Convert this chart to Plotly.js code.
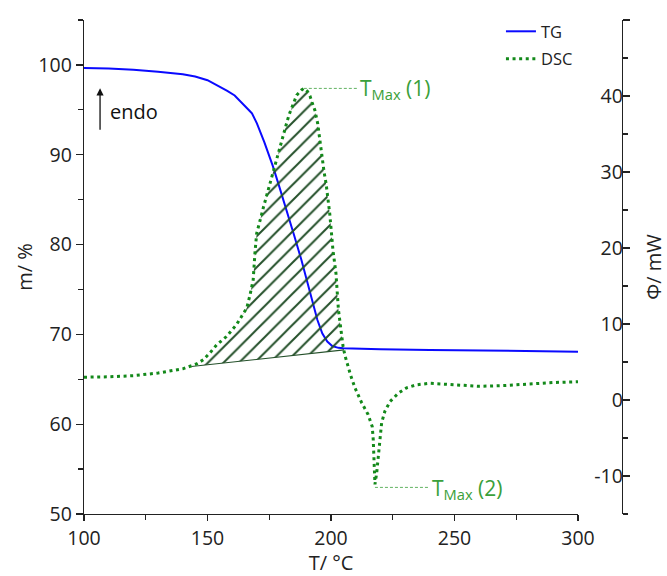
<!DOCTYPE html>
<html><head><meta charset="utf-8">
<script src="https://cdn.plot.ly/plotly-3.0.1.min.js"></script>
<style>html,body{margin:0;padding:0;background:#fff;} #chart{width:667px;height:576px;}</style>
</head><body><div id="chart"></div>
<script>
// ---- data ----
const tgT = [100,110,120,130,140,145,150,155,158,161,164,167,168,170,173,176.5,179,182,185,188,190.5,192.5,194.5,196.5,198.5,200.5,203,205,210,220,240,260,280,300];
const tgMass = [99.65,99.6,99.45,99.25,98.95,98.7,98.3,97.6,97.1,96.6,95.8,94.9,94.6,93.5,91.4,88.7,86.5,83.9,81.1,78.3,75.8,73.5,71.6,70.1,69.2,68.7,68.5,68.45,68.4,68.35,68.27,68.2,68.13,68.07];

const dscT = [100,110,120,130,140,145.6,148.3,151,153.7,157.7,161.7,165.9,167.2,168.5,169.2,169.9,172.6,174.6,176,177,178.3,179,180.1,181.1,182.1,183.1,184.1,185,186.1,188.1,189,190.5,191.5,192.5,193.5,194.6,195.8,197.2,198,199.5,200.8,202,203,204,204.9,205.7,207,208,209.7,212.4,215,216.7,217.1,217.4,217.8,218.5,219.2,219.8,220.5,221.8,223.9,227.3,230.6,234.7,240,250,260,270,280,290,300];
const dscPhi = [3.0,3.05,3.2,3.55,4.1,4.75,5.3,6.2,7.25,8.35,9.9,12.1,13.8,15.8,19.3,21.9,25.3,27.7,29.4,30.6,32.2,33.1,34.4,35.5,36.5,37.6,38.5,39.3,40.1,40.8,41.0,40.6,40.0,39.0,38.1,36.4,33.3,30.0,28.5,24.5,19.7,16.7,11.9,9.2,7.0,5.8,4.2,3.2,1.6,-0.35,-1.9,-3.5,-5.2,-7.8,-11.1,-9.6,-7.0,-4.8,-3.0,-1.5,-0.2,0.9,1.6,2.0,2.2,2.0,1.8,1.9,2.1,2.3,2.4];

const baselineT = [143.5, 205.3];
const baselinePhi = [4.4, 6.6];

const xTicks = [100,150,200,250,300];
const leftTicks = [50,60,70,80,90,100];
const rightTicks = [-10,0,10,20,30,40,50];
const rightTickText = ['-10','0','10','20','30','40','50'];
const seriesNames = ['TG','DSC'];
const peakLabels = ['T<sub>Max</sub> (1)','T<sub>Max</sub> (2)'];
const axisTitles = {x:'T/ °C', y:'m/ %', y2:'Φ/ mW'};

// ---- derived ----
let iMax = 0, iMin = 0;
dscPhi.forEach((v,i)=>{ if(v>dscPhi[iMax]) iMax=i; if(v<dscPhi[iMin]) iMin=i; });
const polyT = [baselineT[0]], polyPhi = [baselinePhi[0]];
dscT.forEach((t,i)=>{ if(t>baselineT[0] && t<baselineT[1]){ polyT.push(t); polyPhi.push(dscPhi[i]); } });
polyT.push(baselineT[1]); polyPhi.push(baselinePhi[1]);

// ---- style / layout constants ----
const FONT = 'Open Sans, Liberation Sans, sans-serif';
const INK = '#222';
const DSC_GREEN = '#13891a';
const LABEL_GREEN = '#3aa03a';
const HATCH_GREEN = '#24502a';
const leader1End = 211, leader2End = 239.3;

const traces = [
  {x:tgT, y:tgMass, type:'scatter', mode:'lines', name:seriesNames[0], legendgroup:'g1',
   line:{color:'#0a0aff', width:2}, xaxis:'x', yaxis:'y', hoverinfo:'skip'},
  {x:polyT, y:polyPhi, type:'scatter', mode:'lines', fill:'toself', showlegend:false,
   fillcolor:'rgba(0,0,0,0)', line:{width:0, color:'rgba(0,0,0,0)'},
   fillpattern:{shape:'/', fgcolor:HATCH_GREEN, bgcolor:'rgba(0,0,0,0)', size:11, solidity:0.18},
   xaxis:'x', yaxis:'y2', hoverinfo:'skip'},
  {x:baselineT, y:baselinePhi, type:'scatter', mode:'lines', showlegend:false,
   line:{color:HATCH_GREEN, width:1.1}, xaxis:'x', yaxis:'y2', hoverinfo:'skip'},
  {x:dscT, y:dscPhi, type:'scatter', mode:'lines', name:seriesNames[1], legendgroup:'g2',
   line:{color:DSC_GREEN, width:3, dash:'3px,3.6px'}, xaxis:'x', yaxis:'y2', hoverinfo:'skip'}
];

const axisCommon = {
  showgrid:false, zeroline:false, showline:true, linecolor:INK, linewidth:1.3,
  ticks:'outside', ticklen:7, tickwidth:1.3, tickcolor:INK,
  tickfont:{family:FONT, size:19.5, color:INK}
};

const layout = {
  width:667, height:576,
  margin:{l:84, r:45, t:20, b:62, pad:0},
  paper_bgcolor:'#fff', plot_bgcolor:'#fff',
  font:{family:FONT, color:INK},
  showlegend:true,
  legend:{x:0.775, y:1.012, xanchor:'left', yanchor:'top', xref:'paper', yref:'paper',
          bgcolor:'rgba(0,0,0,0)', borderwidth:0, font:{family:FONT, size:16.5, color:INK},
          traceorder:'grouped', tracegroupgap:3},
  xaxis:Object.assign({}, axisCommon, {
    domain:[0, 0.9182], range:[100,300], tickvals:xTicks, anchor:'y', ticklen:6,
    minor:{dtick:25, tick0:100, ticks:'outside', ticklen:5, tickwidth:1.3, tickcolor:INK, showgrid:false},
    title:{text:axisTitles.x, font:{family:FONT, size:20, color:INK}, standoff:13}
  }),
  yaxis:Object.assign({}, axisCommon, {
    range:[50,105], tickvals:leftTicks, anchor:'x',
    minor:{dtick:5, tick0:50, ticks:'outside', ticklen:5, tickwidth:1.3, tickcolor:INK, showgrid:false},
    title:{text:axisTitles.y, font:{family:FONT, size:20, color:INK}, standoff:0}
  }),
  yaxis2:Object.assign({}, axisCommon, {
    range:[-15,50], tickvals:rightTicks, ticktext:rightTickText, overlaying:'y', side:'right', anchor:'free', position:1,
    ticklabelposition:'inside',
    minor:{dtick:5, tick0:-15, ticks:'outside', ticklen:5, tickwidth:1.3, tickcolor:INK, showgrid:false},
    title:{text:axisTitles.y2, font:{family:FONT, size:20, color:INK}, standoff:36}
  }),
  shapes:[
    {type:'line', xref:'x', yref:'y2', x0:dscT[iMax], y0:dscPhi[iMax], x1:leader1End, y1:dscPhi[iMax],
     line:{color:LABEL_GREEN, width:0.8, dash:'3px,2px'}},
    {type:'line', xref:'x', yref:'y2', x0:dscT[iMin], y0:dscPhi[iMin]-0.4, x1:leader2End, y1:dscPhi[iMin]-0.4,
     line:{color:LABEL_GREEN, width:0.8, dash:'3px,2px'}}
  ],
  annotations:[
    {xref:'x', yref:'y2', x:leader1End, y:dscPhi[iMax], xanchor:'left', yanchor:'middle', xshift:0, yshift:-1,
     text:peakLabels[0], showarrow:false, font:{family:FONT, size:21, color:LABEL_GREEN}},
    {xref:'x', yref:'y2', x:leader2End, y:dscPhi[iMin]-0.4, xanchor:'left', yanchor:'middle', xshift:2, yshift:-2,
     text:peakLabels[1], showarrow:false, font:{family:FONT, size:21, color:LABEL_GREEN}},
    {xref:'x', yref:'y', x:109.8, y:94.85, xanchor:'left', yanchor:'middle',
     text:'endo', showarrow:false, font:{family:FONT, size:20, color:'#111'}},
    {xref:'x', yref:'y', x:106.5, y:97.4, text:'', showarrow:true, ax:0, ay:43,
     arrowhead:2, arrowsize:1.1, arrowwidth:1.3, arrowcolor:'#111'}
  ]
};

Plotly.newPlot('chart', traces, layout, {displayModeBar:false, staticPlot:true});
</script>
</body></html>
